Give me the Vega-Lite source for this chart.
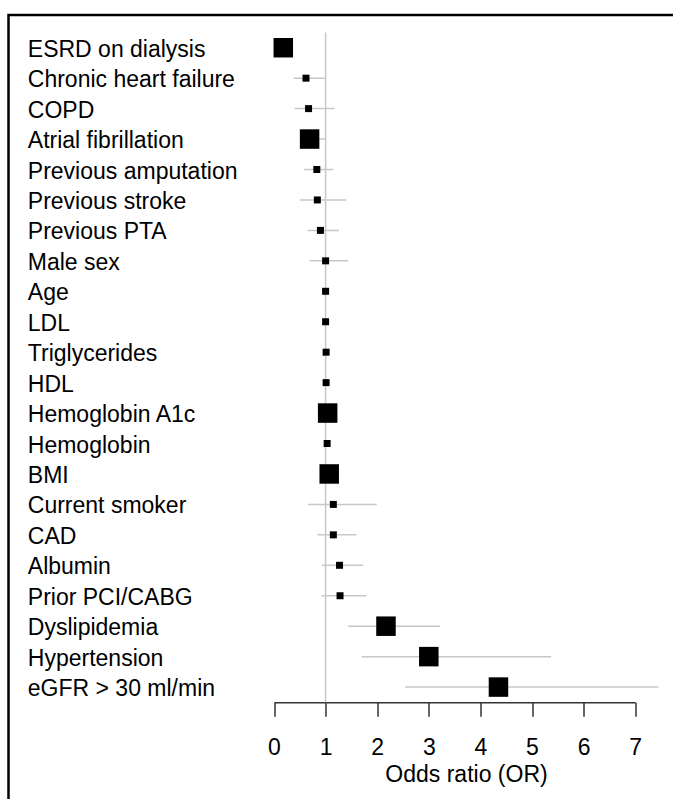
{
  "$schema": "https://vega.github.io/schema/vega-lite/v6.json",
  "autosize": {"type": "none"},
  "padding": {"left": 8.5, "top": 15, "right": -40, "bottom": -40},
  "width": 704.5,
  "height": 824,
  "background": "white",
  "config": {
    "view": {"stroke": "black", "strokeWidth": 2.5, "fill": "white"},
    "font": "Liberation Sans"
  },
  "data": {
    "values": [
      {"label": "ESRD on dialysis", "or": 0.18, "lo": 0.08, "hi": 0.32, "group": "independent"},
      {"label": "Chronic heart failure", "or": 0.62, "lo": 0.38, "hi": 1.0, "group": "other"},
      {"label": "COPD", "or": 0.67, "lo": 0.40, "hi": 1.17, "group": "other"},
      {"label": "Atrial fibrillation", "or": 0.69, "lo": 0.52, "hi": 0.99, "group": "independent"},
      {"label": "Previous amputation", "or": 0.83, "lo": 0.58, "hi": 1.15, "group": "other"},
      {"label": "Previous stroke", "or": 0.84, "lo": 0.50, "hi": 1.40, "group": "other"},
      {"label": "Previous PTA", "or": 0.90, "lo": 0.65, "hi": 1.26, "group": "other"},
      {"label": "Male sex", "or": 1.00, "lo": 0.69, "hi": 1.44, "group": "other"},
      {"label": "Age", "or": 1.00, "lo": 0.98, "hi": 1.02, "group": "other"},
      {"label": "LDL", "or": 1.00, "lo": 0.99, "hi": 1.01, "group": "other"},
      {"label": "Triglycerides", "or": 1.01, "lo": 1.00, "hi": 1.02, "group": "other"},
      {"label": "HDL", "or": 1.01, "lo": 0.99, "hi": 1.03, "group": "other"},
      {"label": "Hemoglobin A1c", "or": 1.04, "lo": 0.90, "hi": 1.20, "group": "independent"},
      {"label": "Hemoglobin", "or": 1.03, "lo": 0.98, "hi": 1.08, "group": "other"},
      {"label": "BMI", "or": 1.07, "lo": 0.95, "hi": 1.20, "group": "independent"},
      {"label": "Current smoker", "or": 1.15, "lo": 0.66, "hi": 1.99, "group": "other"},
      {"label": "CAD", "or": 1.15, "lo": 0.84, "hi": 1.60, "group": "other"},
      {"label": "Albumin", "or": 1.27, "lo": 0.93, "hi": 1.73, "group": "other"},
      {"label": "Prior PCI/CABG", "or": 1.28, "lo": 0.92, "hi": 1.79, "group": "other"},
      {"label": "Dyslipidemia", "or": 2.17, "lo": 1.44, "hi": 3.22, "group": "independent"},
      {"label": "Hypertension", "or": 3.0, "lo": 1.70, "hi": 5.37, "group": "independent"},
      {"label": "eGFR > 30 ml/min", "or": 4.35, "lo": 2.54, "hi": 7.45, "group": "independent"}
    ]
  },
  "encoding": {
    "y": {
      "field": "label",
      "type": "nominal",
      "sort": null,
      "scale": {"type": "band", "range": [17.5, 687.3], "paddingInner": 0, "paddingOuter": 0},
      "axis": {
        "title": null,
        "domain": false,
        "ticks": false,
        "tickSize": 0,
        "grid": false,
        "labelAlign": "left",
        "labelBaseline": "alphabetic",
        "labelOffset": 9,
        "labelPadding": -18.8,
        "labelFont": "Liberation Sans",
        "labelFontSize": 23,
        "labelColor": "black",
        "labelLimit": 0
      }
    }
  },
  "layer": [
    {
      "mark": {"type": "rect", "fill": "#c8c8c8"},
      "encoding": {
        "x": {"datum": 0.985, "type": "quantitative", "scale": {"domain": [0, 7], "range": [265.5, 626.7], "nice": false, "zero": false}},
        "x2": {"datum": 1.015}
      }
    },
    {
      "mark": {"type": "rule", "color": "#c8c8c8", "strokeWidth": 1.5},
      "encoding": {
        "x": {"field": "lo", "type": "quantitative"},
        "x2": {"field": "hi"}
      }
    },
    {
      "mark": {"type": "point", "shape": "square", "filled": true, "color": "black", "opacity": 1, "strokeWidth": 0},
      "encoding": {
        "x": {
          "field": "or",
          "type": "quantitative",
          "axis": {
            "values": [0, 1, 2, 3, 4, 5, 6, 7],
            "format": "d",
            "grid": false,
            "offset": -136.7,
            "domainColor": "#333333",
            "domainWidth": 1.5,
            "tickColor": "#333333",
            "tickWidth": 1.5,
            "tickSize": 14,
            "labelFont": "Liberation Sans",
            "labelFontSize": 23,
            "labelColor": "black",
            "labelPadding": 20,
            "labelFlush": false,
            "labelOverlap": false,
            "title": "Odds ratio (OR)",
            "titleFont": "Liberation Sans",
            "titleFontSize": 23,
            "titleFontWeight": "normal",
            "titleColor": "black",
            "titleX": 457.5,
            "titleY": 78.7,
            "titleAlign": "center",
            "titleBaseline": "alphabetic"
          }
        },
        "size": {
          "field": "group",
          "type": "nominal",
          "scale": {"domain": ["independent", "other"], "range": [380, 49]},
          "legend": null
        }
      }
    }
  ]
}
